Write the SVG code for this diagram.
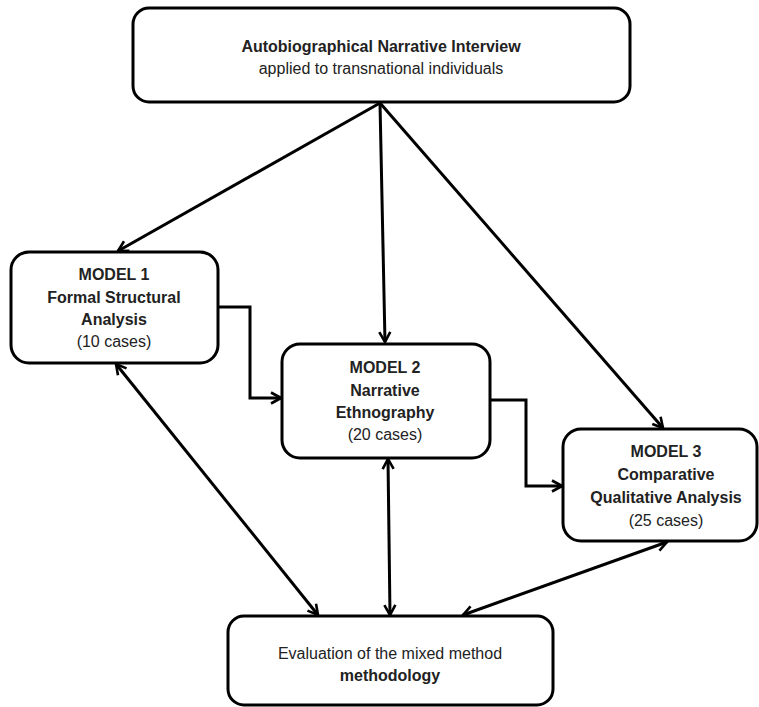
<svg xmlns="http://www.w3.org/2000/svg" width="759" height="707" viewBox="0 0 759 707">
<defs>
<style>
.box{fill:#fff;stroke:#000;stroke-width:3}
.c{fill:none;stroke:#000;stroke-width:3}
text{font-family:"Liberation Sans",Arial,sans-serif;font-size:16px;fill:#222;text-anchor:middle}
.b{font-weight:bold}
</style>
<marker id="ah" viewBox="0 0 14 14" refX="12" refY="7" markerWidth="14" markerHeight="14" markerUnits="userSpaceOnUse" orient="auto-start-reverse">
<path d="M2,1.5 L12,7 L2,12.5" fill="none" stroke="#000" stroke-width="2.6"/>
</marker>
</defs>
<rect width="759" height="707" fill="#fff"/>
<g id="connectors">
<line class="c" x1="380" y1="103" x2="118" y2="251" marker-end="url(#ah)"/>
<line class="c" x1="380" y1="103" x2="385" y2="342" marker-end="url(#ah)"/>
<line class="c" x1="380" y1="103" x2="663" y2="428" marker-end="url(#ah)"/>
<path class="c" d="M218,307 H250 V398 H281" marker-end="url(#ah)"/>
<path class="c" d="M490,400 H526 V486 H562" marker-end="url(#ah)"/>
<line class="c" x1="116" y1="364" x2="318" y2="615" marker-start="url(#ah)" marker-end="url(#ah)"/>
<line class="c" x1="388" y1="459" x2="390" y2="615" marker-start="url(#ah)" marker-end="url(#ah)"/>
<line class="c" x1="667" y1="542" x2="463" y2="615" marker-start="url(#ah)" marker-end="url(#ah)"/>
</g>
<g id="interview">
<rect class="box" x="133" y="8" width="497" height="94" rx="16"/>
<text class="b" x="381" y="52">Autobiographical Narrative Interview</text>
<text x="381" y="74">applied to transnational individuals</text>
</g>
<g id="model1">
<rect class="box" x="11" y="252" width="207" height="111" rx="18"/>
<text class="b" x="114" y="280">MODEL 1</text>
<text class="b" x="114" y="303">Formal Structural</text>
<text class="b" x="114" y="325">Analysis</text>
<text x="114" y="347">(10 cases)</text>
</g>
<g id="model2">
<rect class="box" x="282" y="344" width="208" height="114" rx="18"/>
<text class="b" x="385" y="373">MODEL 2</text>
<text class="b" x="385" y="396">Narrative</text>
<text class="b" x="385" y="418">Ethnography</text>
<text x="385" y="440">(20 cases)</text>
</g>
<g id="model3">
<rect class="box" x="563" y="429" width="194" height="112" rx="18"/>
<text class="b" x="666" y="457">MODEL 3</text>
<text class="b" x="666" y="480">Comparative</text>
<text class="b" x="666" y="503">Qualitative Analysis</text>
<text x="666" y="526">(25 cases)</text>
</g>
<g id="evaluation">
<rect class="box" x="228" y="616" width="325" height="89" rx="16"/>
<text x="390" y="659">Evaluation of the mixed method</text>
<text class="b" x="390" y="681">methodology</text>
</g>
</svg>
